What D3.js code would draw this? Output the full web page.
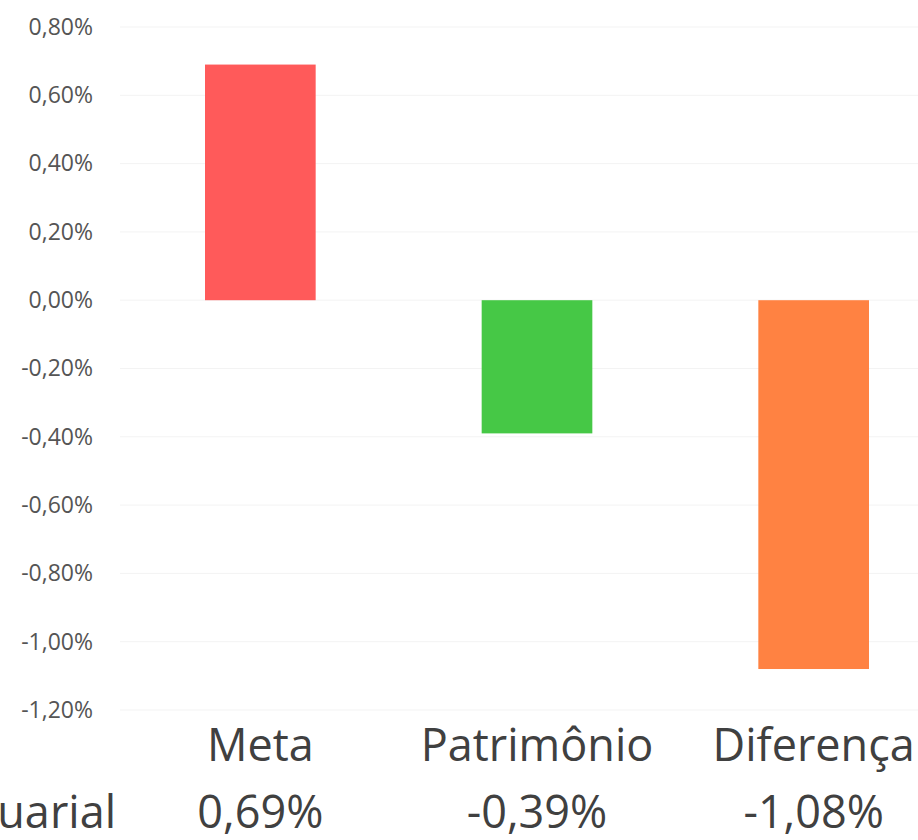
<!DOCTYPE html>
<html>
<head>
<meta charset="utf-8">
<script src="https://cdn.jsdelivr.net/npm/d3@7"></script>
<style>
  body { margin: 0; background: #fff; }
  svg { display: block; }
</style>
</head>
<body>
<svg id="chart" width="918" height="840"></svg>
<script>
// data
const categories = ['Meta', 'Patrimônio', 'Diferença'];
const values = [0.69, -0.39, -1.08];
const barColors = ['#ff5a5a', '#46c846', '#ff8242'];
const yTicks = [0.8, 0.6, 0.4, 0.2, 0, -0.2, -0.4, -0.6, -0.8, -1.0, -1.2];
const rowLabel = 'Atuarial';

// pt-BR style: comma decimal, plain hyphen for minus
const fmt = (v) =>
  d3.format('.2f')(v).replace('.', ',').replace('\u2212', '-') + '%';

const svg = d3.select('#chart');
const font = '"Open Sans", Lato, sans-serif';

const y = d3.scaleLinear().domain([-1.2, 0.8]).range([710, 27]);
const x = d3
  .scaleBand()
  .domain(categories)
  .range([122, 952])
  .paddingInner(0.6)
  .paddingOuter(0.3);

// faint gridlines
svg
  .append('g')
  .selectAll('line')
  .data(yTicks)
  .join('line')
  .attr('x1', 120)
  .attr('x2', 918)
  .attr('y1', (d) => y(d))
  .attr('y2', (d) => y(d))
  .attr('stroke', '#f3f3f3')
  .attr('stroke-width', 1);

// y axis labels
const yAxis = d3
  .axisLeft(y)
  .tickValues(yTicks)
  .tickSize(0)
  .tickPadding(0)
  .tickFormat(fmt);

svg
  .append('g')
  .attr('transform', 'translate(93,0)')
  .call(yAxis)
  .call((g) => g.select('.domain').remove())
  .selectAll('text')
  .attr('font-family', font)
  .attr('font-size', 23)
  .attr('fill', '#555');

// bars
svg
  .append('g')
  .selectAll('rect')
  .data(values)
  .join('rect')
  .attr('x', (d, i) => x(categories[i]))
  .attr('width', x.bandwidth())
  .attr('y', (d) => y(Math.max(0, d)))
  .attr('height', (d) => Math.abs(y(d) - y(0)))
  .attr('fill', (d, i) => barColors[i]);

// category labels
svg
  .append('g')
  .selectAll('text')
  .data(categories)
  .join('text')
  .attr('x', (d) => x(d) + x.bandwidth() / 2)
  .attr('y', 761)
  .attr('text-anchor', 'middle')
  .attr('font-family', font)
  .attr('font-size', 45)
  .attr('fill', '#404040')
  .text((d) => d);

// value row
svg
  .append('g')
  .selectAll('text')
  .data(values)
  .join('text')
  .attr('x', (d, i) => x(categories[i]) + x.bandwidth() / 2)
  .attr('y', 828)
  .attr('text-anchor', 'middle')
  .attr('font-family', font)
  .attr('font-size', 45)
  .attr('fill', '#404040')
  .text((d) => fmt(d));

svg
  .append('text')
  .attr('x', 116)
  .attr('y', 828)
  .attr('text-anchor', 'end')
  .attr('font-family', font)
  .attr('font-size', 45)
  .attr('fill', '#404040')
  .text(rowLabel);
</script>
</body>
</html>
